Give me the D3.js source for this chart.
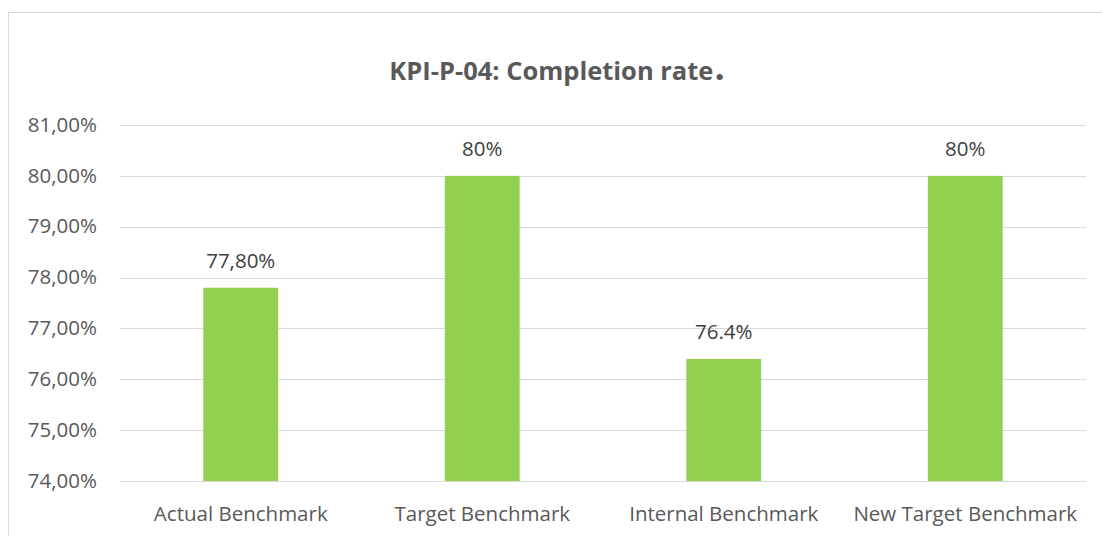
<!DOCTYPE html>
<html><head><meta charset="utf-8">
<script src="https://cdn.jsdelivr.net/npm/d3@7"></script>
<style>body{margin:0;background:#fff}svg{display:block}text{font-family:"Open Sans",sans-serif}</style>
</head><body><svg id="c" width="1102" height="536"></svg>
<script>
const categories = ["Actual Benchmark","Target Benchmark","Internal Benchmark","New Target Benchmark"];
const values = [77.8, 80, 76.4, 80];
const valueLabels = ["77,80%","80%","76.4%","80%"];
const yTicks = [74,75,76,77,78,79,80,81];
const title = "KPI-P-04: Completion rate";

const svg = d3.select("#c");
const m = {l:120, r:16, t:125, b:55};
const W = 1102, H = 536;
svg.append("rect").attr("x",8.5).attr("y",12.5).attr("width",1200).attr("height",600)
  .attr("fill","#fff").attr("stroke","#d9d9d9").attr("stroke-width",1);

const x = d3.scaleBand().domain(categories).range([m.l, W-m.r]).paddingInner(0.69).paddingOuter(0.345);
const y = d3.scaleLinear().domain([74,81]).range([H-m.b, m.t]);

const grid = svg.append("g");
grid.selectAll("line").data(yTicks).join("line")
  .attr("x1",m.l).attr("x2",W-m.r).attr("y1",d=>Math.round(y(d))+0.5).attr("y2",d=>Math.round(y(d))+0.5)
  .attr("stroke","#d9d9d9").attr("stroke-width",1);

const yAxis = d3.axisLeft(y).tickValues(yTicks).tickSize(0).tickPadding(23)
  .tickFormat(d=>d.toFixed(2).replace(".",",")+"%");
const ga = svg.append("g").attr("transform",`translate(${m.l},0)`).call(yAxis);
ga.select(".domain").remove();
ga.selectAll("text").attr("fill","#595959").attr("dy","0.3em").style("font-size","20.5px").style("font-family","'Open Sans',sans-serif");

svg.append("g").selectAll("rect").data(values).join("rect")
  .attr("x",(d,i)=>x(categories[i])).attr("width",x.bandwidth())
  .attr("y",d=>y(d)).attr("height",d=>y(74)-y(d)).attr("fill","#92d050");

svg.append("g").selectAll("text").data(values).join("text")
  .attr("x",(d,i)=>x(categories[i])+x.bandwidth()/2).attr("y",d=>y(d)-20)
  .attr("text-anchor","middle").attr("fill","#404040").style("font-size","20.5px").text((d,i)=>valueLabels[i]);

const xAxis = d3.axisBottom(x).tickSize(0).tickPadding(25);
const gx = svg.append("g").attr("transform",`translate(0,${y(74)})`).call(xAxis);
gx.select(".domain").remove();
gx.selectAll("text").attr("fill","#595959").style("font-size","20.5px").style("font-family","'Open Sans',sans-serif");

const t = svg.append("text").attr("x",557).attr("y",80).attr("text-anchor","middle")
  .attr("fill","#595959").style("font-size","25.5px").style("font-weight","bold");
t.append("tspan").text(title);
t.append("tspan").text(".").style("font-size","36px").attr("dx",1);
</script></body></html>
